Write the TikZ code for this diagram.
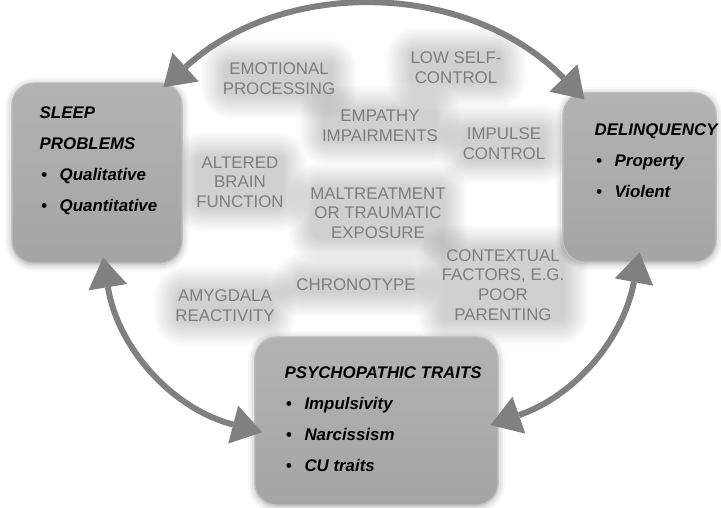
\documentclass[tikz,border=0pt]{standalone}
\usepackage{fontspec}
\setmainfont{Liberation Sans}
\usetikzlibrary{arrows.meta,positioning,shadows.blur}
\definecolor{boxgray}{RGB}{165,165,165}
\definecolor{arrgray}{RGB}{128,128,128}
\definecolor{txtgray}{RGB}{125,125,125}

% bullet item inside an outcome box
\newcommand{\itm}[1]{\makebox[0.5cm][l]{\hspace{1pt}\textbullet}#1}

\begin{document}
\begin{tikzpicture}[
  outcome/.style={rectangle, rounded corners=0.55cm, draw=white!75!black, line width=0.8pt,
                  top color=boxgray!85, bottom color=boxgray, inner sep=0pt,
                  blur shadow={shadow xshift=0pt, shadow yshift=-1pt, shadow blur radius=5pt, shadow opacity=35}},
  otext/.style={inner sep=0pt, align=left, font=\fontsize{12}{22}\selectfont\bfseries\itshape},
  factor/.style={inner sep=4pt, align=center, text=txtgray, font=\fontsize{12}{14}\selectfont},
  haze/.style={fill=black, fill opacity=0.011},
  link/.style={{Triangle[length=0.75cm,width=0.98cm,line width=0pt]}-{Triangle[length=0.75cm,width=0.98cm,line width=0pt]},
               line width=0.15cm, draw=arrgray}
]
\useasboundingbox (0,0) rectangle (18.025,12.675);

% soft clouds behind the factors (centre x/y, half width/height)
\foreach \x/\y/\w/\h in {6.975/10.71/1.35/0.4, 11.4/10.99/1.15/0.4, 9.5/9.525/1.43/0.4,
                         12.6/9.075/1.03/0.4, 6.0/8.125/1.08/0.65, 9.45/7.35/1.64/0.65,
                         12.575/5.55/1.54/0.9, 8.9/5.55/1.49/0.2, 5.625/5.025/1.18/0.4}
  \foreach \g in {0,0.04,...,0.6}
    \fill[haze, rounded corners=\g cm+4pt] (\x-\w-\g,\y-\h-\g) rectangle (\x+\w+\g,\y+\h+\g);

% Mediating factors
\node[factor] (emotion)  at (6.975,10.71) {EMOTIONAL\\PROCESSING};
\node[factor] (selfctrl) at (11.4,10.99)  {LOW SELF-\\CONTROL};
\node[factor] (empathy)  at (9.5,9.525)   {EMPATHY\\IMPAIRMENTS};
\node[factor] (impulse)  at (12.6,9.075)  {IMPULSE\\CONTROL};
\node[factor] (brain)    at (6.0,8.125)   {ALTERED\\BRAIN\\FUNCTION};
\node[factor] (maltreat) at (9.45,7.35)   {MALTREATMENT\\OR TRAUMATIC\\EXPOSURE};
\node[factor] (context)  at (12.575,5.55) {CONTEXTUAL\\FACTORS, E.G.\\POOR\\PARENTING};
\node[factor] (chrono)   at (8.9,5.55)    {CHRONOTYPE};
\node[factor] (amygdala) at (5.625,5.025) {AMYGDALA\\REACTIVITY};

% Sleep problems (left)
\node[outcome, minimum width=4.25cm, minimum height=4.5cm] (sleep) at (2.425,8.35) {};
\node[otext, below right=0.6cm and 0.7cm of sleep.north west] (sleeptxt)
  {SLEEP\\PROBLEMS\\\itm{Qualitative}\\\itm{Quantitative}};

% Delinquency (right)
\node[outcome, minimum width=3.83cm, minimum height=4.23cm] (delinq) at (15.99,8.24) {};
\node[otext, below right=0.78cm and 0.8cm of delinq.north west] (delinqtxt)
  {DELINQUENCY\\\itm{Property}\\\itm{Violent}};

% Psychopathic traits (bottom)
\node[outcome, minimum width=6.08cm, minimum height=4.2cm] (psych) at (9.41,2.15) {};
\node[otext, below right=0.75cm and 0.75cm of psych.north west] (psychtxt)
  {PSYCHOPATHIC TRAITS\\\itm{Impulsivity}\\\itm{Narcissism}\\\itm{CU traits}};

% Arrows
\draw[link] ([shift={(-0.48,-0.12)}]sleep.north east) to[bend left=44] ([shift={(0.55,-0.18)}]delinq.north west);
\draw[link] ([shift={(0.15,0.15)}]sleep.south) to[bend right=33] ([shift={(0.2,-0.28)}]psych.west);
\draw[link] ([shift={(-0.2,-0.1)}]psych.east) to[bend right=30] ([shift={(0,0.25)}]delinq.south);
\end{tikzpicture}
\end{document}
